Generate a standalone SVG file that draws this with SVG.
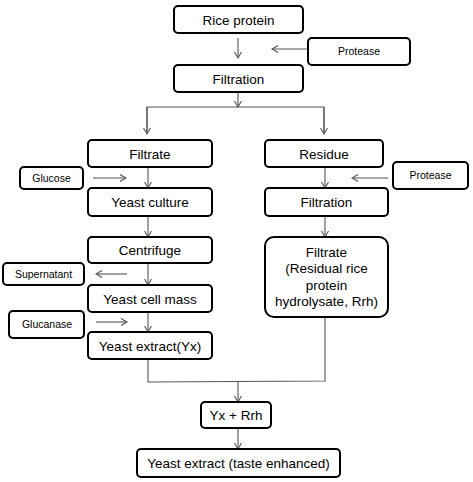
<svg xmlns="http://www.w3.org/2000/svg" width="473" height="482" viewBox="0 0 473 482">
<style>
.box{fill:#fff;stroke:#000;stroke-width:2;}
.t{font-family:"Liberation Sans",Arial,sans-serif;font-size:13.5px;text-anchor:middle;fill:#000;}
.s{font-family:"Liberation Sans",Arial,sans-serif;font-size:10.5px;text-anchor:middle;fill:#000;}
.c{fill:none;stroke:#555;stroke-width:1.1;}
</style>
<defs>
<marker id="a" markerWidth="8" markerHeight="8" refX="6.5" refY="4" orient="auto" markerUnits="userSpaceOnUse">
<path d="M0.5,0.5 L6.5,4 L0.5,7.5" fill="none" stroke="#555" stroke-width="1.1"/>
</marker>
</defs>
<rect width="473" height="482" fill="#fff"/>
<g id="connectors">
<line class="c" x1="238" y1="38" x2="238" y2="58" marker-end="url(#a)"/>
<line class="c" x1="308" y1="49" x2="272" y2="49" marker-end="url(#a)"/>
<line class="c" x1="238" y1="92" x2="238" y2="107" marker-end="url(#a)"/>
<polyline class="c" points="147,133 147,107 324,107 324,133"/>
<line class="c" x1="147" y1="107" x2="147" y2="134" marker-end="url(#a)"/>
<line class="c" x1="324" y1="107" x2="324" y2="134" marker-end="url(#a)"/>
<line class="c" x1="148" y1="167" x2="148" y2="188" marker-end="url(#a)"/>
<line class="c" x1="93" y1="178" x2="126" y2="178" marker-end="url(#a)"/>
<line class="c" x1="148" y1="216" x2="148" y2="237" marker-end="url(#a)"/>
<line class="c" x1="148" y1="263" x2="148" y2="285" marker-end="url(#a)"/>
<line class="c" x1="127" y1="274" x2="96" y2="274" marker-end="url(#a)"/>
<line class="c" x1="148" y1="312" x2="148" y2="332" marker-end="url(#a)"/>
<line class="c" x1="96" y1="322" x2="127" y2="322" marker-end="url(#a)"/>
<line class="c" x1="325" y1="167" x2="325" y2="188" marker-end="url(#a)"/>
<line class="c" x1="388" y1="178" x2="352" y2="178" marker-end="url(#a)"/>
<line class="c" x1="325" y1="216" x2="325" y2="237" marker-end="url(#a)"/>
<polyline class="c" points="148,359 148,382 325,381 325,317"/>
<line class="c" x1="238" y1="381" x2="238" y2="402" marker-end="url(#a)"/>
<line class="c" x1="238" y1="428" x2="238" y2="449" marker-end="url(#a)"/>
</g>
<g id="rice-protein"><rect class="box" x="174" y="6" width="129" height="27" rx="4"/><text class="t" x="238.5" y="24.5">Rice protein</text></g>
<g id="protease-1"><rect class="box" x="308" y="38" width="102" height="27" rx="4"/><text class="s" x="359" y="55">Protease</text></g>
<g id="filtration-1"><rect class="box" x="174" y="65" width="129" height="27" rx="4"/><text class="t" x="238.5" y="83.5">Filtration</text></g>
<g id="filtrate-1"><rect class="box" x="88" y="140" width="124" height="27" rx="4"/><text class="t" x="150" y="158.5">Filtrate</text></g>
<g id="residue"><rect class="box" x="265" y="140" width="118" height="27" rx="4"/><text class="t" x="324" y="158.5">Residue</text></g>
<g id="glucose"><rect class="box" x="20" y="167" width="63" height="22" rx="4"/><text class="s" x="51.5" y="181.5">Glucose</text></g>
<g id="protease-2"><rect class="box" x="393" y="162" width="75" height="27" rx="4"/><text class="s" x="430.5" y="179">Protease</text></g>
<g id="yeast-culture"><rect class="box" x="88" y="188" width="124" height="28" rx="4"/><text class="t" x="150" y="206.5">Yeast culture</text></g>
<g id="filtration-2"><rect class="box" x="265" y="188" width="123" height="28" rx="4"/><text class="t" x="326.5" y="206.5">Filtration</text></g>
<g id="centrifuge"><rect class="box" x="88" y="237" width="124" height="26" rx="4"/><text class="t" x="150" y="254.5">Centrifuge</text></g>
<g id="filtrate-rrh"><rect class="box" x="265" y="237" width="123" height="80" rx="9"/>
<text class="t" x="326.5" y="257">Filtrate</text>
<text class="t" x="326.5" y="273">(Residual rice</text>
<text class="t" x="326.5" y="289.5">protein</text>
<text class="t" x="326.5" y="305.5">hydrolysate, Rrh)</text></g>
<g id="supernatant"><rect class="box" x="3" y="263" width="81" height="22" rx="4"/><text class="s" x="43.5" y="277.5">Supernatant</text></g>
<g id="yeast-cell-mass"><rect class="box" x="88" y="285" width="124" height="27" rx="4"/><text class="t" x="150" y="303.5">Yeast cell mass</text></g>
<g id="glucanase"><rect class="box" x="9" y="311" width="75" height="27" rx="4"/><text class="s" x="47" y="328">Glucanase</text></g>
<g id="yeast-extract-yx"><rect class="box" x="88" y="332" width="124" height="27" rx="4"/><text class="t" x="150" y="350.5">Yeast extract(Yx)</text></g>
<g id="yx-rrh"><rect class="box" x="201" y="402" width="70" height="26" rx="4"/><text class="t" x="236" y="419.5">Yx + Rrh</text></g>
<g id="yeast-extract-final"><rect class="box" x="137" y="449" width="203" height="28" rx="4"/><text class="t" x="238.5" y="467.5">Yeast extract (taste enhanced)</text></g>
</svg>
